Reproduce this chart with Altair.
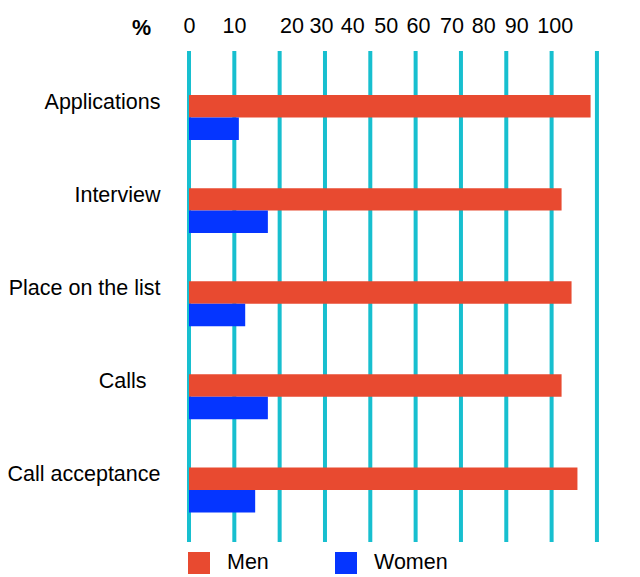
import json

import altair as alt
import pandas as pd

# --- data -------------------------------------------------------------
categories = ["Applications", "Interview", "Place on the list", "Calls", "Call acceptance"]
series = ["Men", "Women"]
men = [88.6, 82.2, 84.4, 82.2, 85.7]
women = [11.0, 17.4, 12.4, 17.4, 14.6]
grid_values = [0, 10, 20, 30, 40, 50, 60, 70, 80, 90]
tick_labels = ["0", "10", "20", "30", "40", "50", "60", "70", "80", "90", "100"]

# --- styling ----------------------------------------------------------
FONT = "Liberation Sans"
RED = "#E84A30"
BLUE = "#0535FF"
TEAL = "#17BFCF"
FS = 21.5

rows = []
for cat, m, w in zip(categories, men, women):
    rows.append({"category": cat, "series": "Men", "value": m})
    rows.append({"category": cat, "series": "Women", "value": w})
df = pd.DataFrame(rows)
grid_df = pd.DataFrame({"value": grid_values})

# where each scale label sits along the x axis
label_positions = [0, 9.9, 22.6, 29.1, 36.0, 43.4, 50.5, 57.9, 64.9, 72.2, 80.7]
label_expr = f"{json.dumps(tick_labels)}[indexof({json.dumps(label_positions)}, datum.value)]"

x_scale = alt.Scale(domain=[0, 92], nice=False, zero=True)
x_axis = alt.Axis(
    orient="top",
    values=label_positions,
    labelExpr=label_expr,
    grid=False,
    ticks=False,
    domain=False,
    labelFont=FONT,
    labelFontSize=FS,
    labelColor="black",
    labelPadding=14,
    labelOverlap=False,
    labelFlush=False,
    title="%",
    titleFont=FONT,
    titleFontSize=FS,
    titleFontWeight="bold",
    titleColor="black",
    titleAngle=0,
    titleAlign="center",
    titleBaseline="alphabetic",
    titleX=-48,
    titleY=-17,
)

grid = alt.Chart(grid_df).mark_rule(color=TEAL, strokeWidth=4).encode(
    x=alt.X("value:Q", scale=x_scale, axis=x_axis)
)

bars = alt.Chart(df).mark_bar(cornerRadius=0).encode(
    x=alt.X("value:Q", scale=x_scale, axis=x_axis),
    y=alt.Y(
        "category:N",
        sort=categories,
        scale=alt.Scale(paddingInner=0.517, paddingOuter=0.3955, align=0.598),
        axis=alt.Axis(
            title=None,
            ticks=False,
            domain=False,
            labelFont=FONT,
            labelFontSize=FS,
            labelColor="black",
            labelPadding={"condition": {"test": "datum.value === 'Calls'", "value": 43}, "value": 29},
            labelOffset=-15,
            labelLimit=400,
        ),
    ),
    yOffset=alt.YOffset("series:N", sort=series, scale=alt.Scale(paddingInner=0, paddingOuter=0)),
    color=alt.Color(
        "series:N",
        sort=series,
        scale=alt.Scale(domain=series, range=[RED, BLUE]),
        legend=alt.Legend(
            title=None,
            orient="none",
            legendX=-1,
            legendY=501,
            direction="horizontal",
            symbolType="square",
            symbolSize=484,
            symbolStrokeWidth=0,
            symbolOpacity=1,
            labelFont=FONT,
            labelFontSize=FS,
            labelColor="black",
            labelOffset=17,
            columnPadding=66,
            padding=0,
        ),
    ),
)

chart = (
    alt.layer(grid, bars)
    .properties(
        width=417,
        height=491,
        padding={"left": 189, "top": 51, "right": 34, "bottom": 35},
        autosize=alt.AutoSizeParams(type="none"),
        background="white",
    )
    .configure_view(strokeWidth=0)
)

chart.save("out.html", embed_options={"renderer": "svg", "actions": False})
